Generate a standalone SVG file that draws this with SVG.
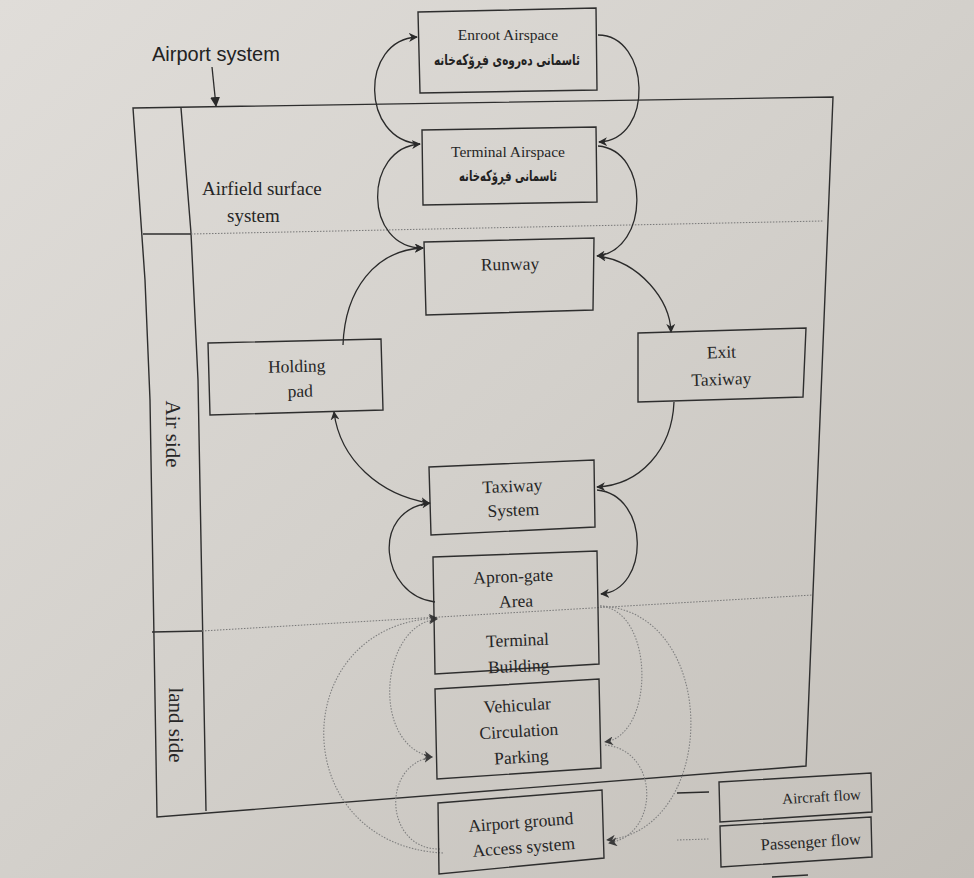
<svg xmlns="http://www.w3.org/2000/svg" width="974" height="878" viewBox="0 0 974 878">
<defs>
<linearGradient id="bg" x1="0" y1="0" x2="1" y2="1">
<stop offset="0" stop-color="#e0ddd9"/>
<stop offset="0.5" stop-color="#d3d0cb"/>
<stop offset="1" stop-color="#c3bfb9"/>
</linearGradient>
<marker id="ah" viewBox="0 0 10 10" refX="9" refY="5" markerWidth="9" markerHeight="9" markerUnits="userSpaceOnUse" orient="auto-start-reverse">
<path d="M0,0 L10,5 L0,10 L3,5 z" fill="#2a2a2a"/>
</marker>
<marker id="ahp" viewBox="0 0 10 10" refX="9" refY="5" markerWidth="9" markerHeight="9" markerUnits="userSpaceOnUse" orient="auto-start-reverse">
<path d="M0,0 L10,5 L0,10 L3,5 z" fill="#3a3a3a"/>
</marker>
<marker id="sa" viewBox="0 0 10 10" refX="9" refY="5" markerWidth="10" markerHeight="10" markerUnits="userSpaceOnUse" orient="auto">
<path d="M0,0 L10,5 L0,10 z" fill="#2a2a2a"/>
</marker>
</defs>
<style>
.frame{fill:none;stroke:#2e2e2e;stroke-width:1.4}
.box{fill:none;stroke:#2e2e2e;stroke-width:1.4}
.dot{fill:none;stroke:#777;stroke-width:1;stroke-dasharray:1.5,1.5}
.af{fill:none;stroke:#2a2a2a;stroke-width:1.3}
.pf{fill:none;stroke:#808080;stroke-width:1.1;stroke-dasharray:1.5,1.5}
.t{font-family:"Liberation Serif","Times New Roman",serif;font-size:17.5px;fill:#262626;text-anchor:middle}
.ts{font-family:"Liberation Serif","Times New Roman",serif;font-size:15.5px;fill:#262626;text-anchor:middle}
.ku{font-family:"DejaVu Sans","Noto Sans",sans-serif;font-size:15px;font-weight:bold;fill:#222;text-anchor:middle}
.lbl{font-family:"Liberation Serif","Times New Roman",serif;font-size:19px;fill:#262626}
.side{font-family:"Liberation Serif","Times New Roman",serif;font-size:21px;fill:#262626;text-anchor:middle;dominant-baseline:central}
.sans{font-family:"Liberation Sans",Arial,sans-serif;font-size:20px;fill:#222}
.leg{font-family:"Liberation Serif","Times New Roman",serif;fill:#262626;text-anchor:end}
</style>
<rect x="0" y="0" width="974" height="878" fill="url(#bg)"/>

<g id="frame">
<path class="frame" d="M133,108 L833,97 L806,766 L157,817 L150,400 L145,280 Z"/>
<polyline class="frame" points="181,108 191,233 198,380 206,811"/>
<line class="frame" x1="143" y1="234" x2="191" y2="234"/>
<line class="dot" x1="191" y1="234" x2="823" y2="221"/>
<line class="frame" x1="152" y1="632" x2="202" y2="631"/>
<line class="dot" x1="202" y1="631" x2="813" y2="595"/>
<text class="lbl" x="202" y="195">Airfield surface</text>
<text class="lbl" x="227" y="222">system</text>
<text class="side" transform="translate(173,434) rotate(90)">Air side</text>
<text class="side" transform="translate(176,725) rotate(90)">land side</text>
</g>

<g id="title">
<text class="sans" x="152" y="61">Airport system</text>
<line x1="212" y1="67" x2="216" y2="106" stroke="#2a2a2a" stroke-width="1.3" marker-end="url(#sa)"/>
</g>

<g id="connectors">
<path class="af" d="M598,35 C650,35 655,140 599,142" marker-end="url(#ah)"/>
<path class="af" d="M598,146 C650,150 650,250 597,256" marker-end="url(#ah)"/>
<path class="af" d="M598,256 C640,262 670,300 671,332" marker-start="url(#ah)" marker-end="url(#ah)"/>
<path class="af" d="M674,402 C672,450 640,485 597,487" marker-end="url(#ah)"/>
<path class="af" d="M597,490 C650,495 650,590 601,594" marker-end="url(#ah)"/>
<path class="af" d="M420,144 C360,140 360,40 417,37" marker-end="url(#ah)"/>
<path class="af" d="M423,248 C363,248 363,148 420,144" marker-start="url(#ah)" marker-end="url(#ah)"/>
<path class="af" d="M343,345 C345,290 375,250 423,248" marker-end="url(#ah)"/>
<path class="af" d="M429,503 C380,495 340,460 334,412" marker-start="url(#ah)" marker-end="url(#ah)"/>
<path class="af" d="M435,602 C380,595 370,510 430,503" marker-end="url(#ah)"/>
<path class="pf" d="M443,853 C285,845 285,625 437,618" marker-end="url(#ahp)"/>
<path class="pf" d="M437,619 C380,625 370,745 432,757" marker-start="url(#ahp)" marker-end="url(#ahp)"/>
<path class="pf" d="M440,849 C385,850 380,765 432,757" marker-end="url(#ahp)"/>
<path class="pf" d="M600,606 C655,610 655,735 605,742" marker-end="url(#ahp)"/>
<path class="pf" d="M600,606 C720,610 720,830 607,840" marker-end="url(#ahp)"/>
<path class="pf" d="M605,745 C660,750 660,835 609,843" marker-end="url(#ahp)"/>
</g>

<g id="enroot">
<polygon class="box" points="418,12 596,8 597,90 420,93"/>
<text class="ts" x="508" y="40">Enroot Airspace</text>
<text class="ku" x="507" y="65" textLength="146" lengthAdjust="spacingAndGlyphs">ئاسمانی دەروەی فڕۆکەخانە</text>
</g>
<g id="terminal-airspace">
<polygon class="box" points="422,130 596,127 597,202 423,205"/>
<text class="ts" x="508" y="157">Terminal Airspace</text>
<text class="ku" x="508" y="181" textLength="98" lengthAdjust="spacingAndGlyphs">ئاسمانی فڕۆکەخانە</text>
</g>
<g id="runway">
<polygon class="box" points="424,242 594,238 593,310 426,315"/>
<text class="t" x="510" y="270" transform="rotate(-1 510 265)">Runway</text>
</g>
<g id="holding-pad">
<polygon class="box" points="208,343 381,339 383,410 210,415"/>
<g transform="rotate(-1.3 298 380)">
<text class="t" x="297" y="372">Holding</text>
<text class="t" x="300" y="397">pad</text>
</g>
</g>
<g id="exit-taxiway">
<polygon class="box" points="638,333 806,328 803,397 638,402"/>
<g transform="rotate(-1.7 722 370)">
<text class="t" x="722" y="358">Exit</text>
<text class="t" x="721" y="385">Taxiway</text>
</g>
</g>
<g id="taxiway-system">
<polygon class="box" points="429,467 594,460 595,527 431,535"/>
<g transform="rotate(-2.4 513 503)">
<text class="t" x="513" y="492">Taxiway</text>
<text class="t" x="513" y="516">System</text>
</g>
</g>
<g id="apron-terminal">
<polygon class="box" points="433,557 597,551 599,664 435,674"/>
<g transform="rotate(-2.2 517 625)">
<text class="t" x="515" y="582">Apron-gate</text>
<text class="t" x="517" y="607">Area</text>
<text class="t" x="517" y="646">Terminal</text>
<text class="t" x="517" y="672">Building</text>
</g>
</g>
<g id="vehicular">
<polygon class="box" points="435,689 599,679 601,768 437,779"/>
<g transform="rotate(-3.4 519 735)">
<text class="t" x="519" y="711">Vehicular</text>
<text class="t" x="519" y="737">Circulation</text>
<text class="t" x="520" y="763">Parking</text>
</g>
</g>
<g id="ground-access">
<polygon class="box" points="438,803 602,790 604,858 439,874"/>
<g transform="rotate(-4.4 522 838)">
<text class="t" x="522" y="828">Airport ground</text>
<text class="t" x="523" y="853">Access system</text>
</g>
</g>

<g id="legend">
<polygon class="box" points="719,782 871,773 872,812 720,822"/>
<line class="af" x1="677" y1="793" x2="709" y2="792"/>
<text class="leg" font-size="15" x="861" y="803" transform="rotate(-3.4 800 798)">Aircraft flow</text>
<polygon class="box" points="720,826 871,817 872,857 721,867"/>
<line class="pf" x1="677" y1="840" x2="709" y2="839"/>
<text class="leg" font-size="16.5" x="861" y="848" transform="rotate(-3.4 800 843)">Passenger flow</text>
<line class="box" x1="772" y1="877" x2="808" y2="875"/>
</g>
</svg>
